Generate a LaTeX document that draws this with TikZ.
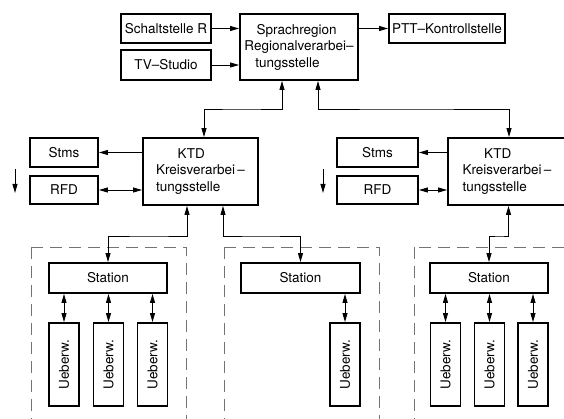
\documentclass[tikz,border=0pt]{standalone}
\usepackage{fontspec}
\setmainfont{TeX Gyre Heros}
\usetikzlibrary{arrows.meta}

\begin{document}
\begin{tikzpicture}[x=1pt,y=-1pt,
    >={Triangle[length=9pt,width=5pt]},
    box/.style={draw,line width=1.9pt,inner sep=2pt,font=\fontsize{13.5}{16.5}\selectfont},
    link/.style={line width=0.9pt},
    region/.style={draw=black!55,line width=0.8pt,dash pattern=on 12pt off 7pt}]
  \clip (0,0) rectangle (564,419);
  % Top part of the Figure
  \node[box,minimum width=90pt,minimum height=29pt]  (Schalt) at (166,28.5) {Schaltstelle R};
  \node[box,minimum width=90pt,minimum height=30pt]  (TV)     at (166,65)   {TV--Studio};
  \node[box,minimum width=118pt,minimum height=66pt,align=left] (Sprach) at (299,47)
        {\hspace*{0.9em}Sprachregion\\Regionalverarbei--\\\hspace*{0.8em}tungsstelle};
  \node[box,minimum width=116pt,minimum height=29pt] (PTT)    at (447,28.5) {PTT--Kontrollstelle};
  \draw[link,->] (Schalt.east) -- (Sprach.west |- Schalt.east);
  \draw[link,->] (TV.east) -- (Sprach.west |- TV.east);
  \draw[link,->] (Sprach.east |- PTT.west) -- (PTT.west);
  % Middle part of the Figure
  \node[box,minimum width=68pt,minimum height=29pt]  (StmsL)  at (64,152.5)   {Stms};
  \node[box,minimum width=68pt,minimum height=28pt]  (RFDL)   at (64,190)     {RFD};
  \node[box,minimum width=115pt,minimum height=67pt,align=left] (KTDL) at (200.5,171.5)
        {\hspace*{1.6em}KTD\\Kreisverarbei\,--\\tungsstelle};
  \node[box,minimum width=81pt,minimum height=29pt]  (StmsR)  at (377.5,152.5) {Stms};
  \node[box,minimum width=81pt,minimum height=28pt]  (RFDR)   at (377.5,190)   {RFD};
  \node[box,minimum width=118pt,minimum height=67pt,align=left] (KTDR) at (507,171.5)
        {\hspace*{1.6em}KTD\\Kreisverarbei\,--\\tungsstelle};
  \draw[link,<->] ([xshift=-17pt]Sprach.south) |- (240,109) -| ([xshift=3.5pt]KTDL.north);
  \draw[link,<->] ([xshift=19pt]Sprach.south) |- (400,109) -| ([xshift=2pt]KTDR.north);
  \draw[link,->] (KTDL.west |- StmsL) -- (StmsL.east);
  \draw[link,<->] (RFDL.east) -- (RFDL.east -| KTDL.west);
  \draw[link,->] (KTDR.west |- StmsR) -- (StmsR.east);
  \draw[link,<->] (RFDR.east) -- (RFDR.east -| KTDR.west);
  \coordinate (dL1) at (15,169);
  \coordinate (dL2) at (15,193);
  \coordinate (dR1) at (323,169);
  \coordinate (dR2) at (323,193);
  \draw[link,->] (dL1) -- (dL2);
  \draw[link,->] (dR1) -- (dR2);
  % Bottom part of the Figure
  \draw[region] (31,247) rectangle (186,440);
  \draw[region] (224,247) rectangle (379,440);
  \draw[region] (414,247) rectangle (600,440);
  \node[box,minimum width=118pt,minimum height=30pt] (StatL) at (108,278)   {Station};
  \node[box,minimum width=119pt,minimum height=30pt] (StatM) at (300.5,278) {Station};
  \node[box,minimum width=118pt,minimum height=30pt] (StatR) at (489,278)   {Station};
  \draw[link,<->] ([xshift=-13.5pt]KTDL.south) |- (150,236) -| (StatL.north);
  \draw[link,<->] ([xshift=22.5pt]KTDL.south) |- (260,236) -| (StatM.north);
  \draw[link,<->] ([xshift=1.5pt]KTDR.south) |- (500,236) -| (StatR.north);
  \foreach \name/\xpos/\stat in {UL1/64/StatL,UL2/108.5/StatL,UL3/152.5/StatL,
                                 UM1/345/StatM,
                                 UR1/445.5/StatR,UR2/489.5/StatR,UR3/533/StatR}{
    \node[box,rotate=90,minimum width=83pt,minimum height=30pt] (\name) at (\xpos,364.5) {Ueberw.};
    \draw[link,<->] (\name.east) -- (\name.east |- \stat.south);
  }
\end{tikzpicture}
\end{document}
